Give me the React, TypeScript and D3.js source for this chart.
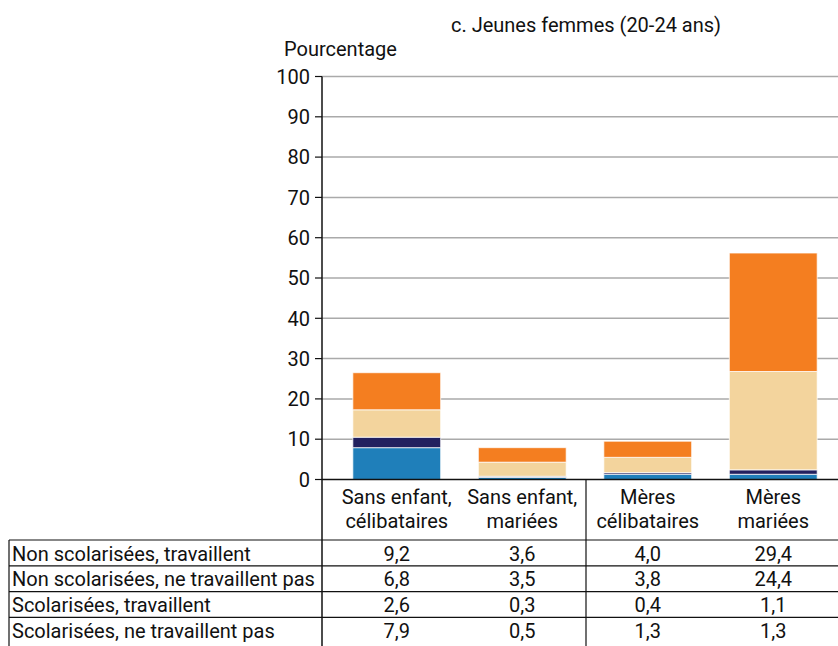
import React from 'react';
import * as d3 from 'd3';

const categories = [
  ['Sans enfant,', 'célibataires'],
  ['Sans enfant,', 'mariées'],
  ['Mères', 'célibataires'],
  ['Mères', 'mariées'],
];

// series, bottom of the stack first
const seriesNames = [
  'Scolarisées, ne travaillent pas',
  'Scolarisées, travaillent',
  'Non scolarisées, ne travaillent pas',
  'Non scolarisées, travaillent',
];
const scolNeTravPas = [7.9, 0.5, 1.3, 1.3];
const scolTrav = [2.6, 0.3, 0.4, 1.1];
const nonScolNeTravPas = [6.8, 3.5, 3.8, 24.4];
const nonScolTrav = [9.2, 3.6, 4.0, 29.4];
const colors = ['#1f7fba', '#22205f', '#f3d49d', '#f47e20'];

// table rows, top first
const tableRows = [
  'Non scolarisées, travaillent',
  'Non scolarisées, ne travaillent pas',
  'Scolarisées, travaillent',
  'Scolarisées, ne travaillent pas',
];
const tableValues = [nonScolTrav, nonScolNeTravPas, scolTrav, scolNeTravPas];
const yTicks = [0, 10, 20, 30, 40, 50, 60, 70, 80, 90, 100];

const FONT = 'Roboto, sans-serif';
const FS = 20;

export default function App() {
  const width = 838;
  const height = 646;
  const axisX = 322;
  const plotRight = 838;

  const y = d3.scaleLinear().domain([0, 100]).range([479.5, 76.5]);
  const x = d3.scaleBand<number>()
    .domain(d3.range(categories.length))
    .range([334, 836])
    .paddingInner(0.3)
    .paddingOuter(0.15);

  const table = categories.map((_, i) => {
    const row: any = { idx: i };
    row[seriesNames[0]] = scolNeTravPas[i];
    row[seriesNames[1]] = scolTrav[i];
    row[seriesNames[2]] = nonScolNeTravPas[i];
    row[seriesNames[3]] = nonScolTrav[i];
    return row;
  });
  const stacked = d3.stack().keys(seriesNames)(table);

  const fmt = (v: number) => v.toFixed(1).replace('.', ',');
  const cx = (i: number) => (x(i) as number) + x.bandwidth() / 2;

  const tableTop = 540;
  const rowH = 25.8;
  const tableLeft = 9;
  const divider = 586;

  return (
    <svg
      width={width}
      height={height}
      style={{ position: 'absolute', left: 0, top: 0, background: '#fff' }}
      fontFamily={FONT}
    >
      <text x={586} y={32} fontSize={FS} textAnchor="middle" fill="#111">
        c. Jeunes femmes (20-24 ans)
      </text>
      <text x={284} y={56} fontSize={FS} fill="#111">Pourcentage</text>

      {/* grid + y ticks */}
      {yTicks.map((t) => (
        <g key={t}>
          {t > 0 && (
            <line x1={axisX} x2={plotRight} y1={y(t)} y2={y(t)} stroke="#aaa" strokeWidth={1.5} />
          )}
          <line x1={315} x2={axisX} y1={y(t)} y2={y(t)} stroke="#111" strokeWidth={1.2} />
          <text x={310} y={y(t)} dy="0.36em" fontSize={FS} textAnchor="end" fill="#111">{t}</text>
        </g>
      ))}

      {/* bars */}
      {stacked.map((s, si) => (
        <g key={s.key}>
          {s.map((d, i) => (
            <rect
              key={i}
              x={x(i)}
              width={x.bandwidth()}
              y={y(d[1])}
              height={y(d[0]) - y(d[1])}
              fill={colors[si]}
              stroke="#fff"
              strokeOpacity={0.75}
              strokeWidth={1}
            />
          ))}
        </g>
      ))}

      {/* axes */}
      <line x1={axisX} x2={plotRight} y1={y(0)} y2={y(0)} stroke="#111" strokeWidth={1.5} />
      <line x1={axisX} x2={axisX} y1={y(100)} y2={height} stroke="#111" strokeWidth={1.5} />
      <line x1={divider} x2={divider} y1={y(0)} y2={height} stroke="#111" strokeWidth={1.2} />

      {/* category labels */}
      {categories.map((c, i) => (
        <text key={i} fontSize={FS} textAnchor="middle" fill="#111">
          <tspan x={cx(i)} y={504}>{c[0]}</tspan>
          <tspan x={cx(i)} y={528}>{c[1]}</tspan>
        </text>
      ))}

      {/* data table */}
      {tableRows.map((r, ri) => (
        <g key={r}>
          <line x1={tableLeft} x2={plotRight} y1={tableTop + ri * rowH} y2={tableTop + ri * rowH} stroke="#111" strokeWidth={1.2} />
          <text x={tableLeft + 3} y={tableTop + ri * rowH + 20.5} fontSize={FS} fill="#111">{r}</text>
          {tableValues[ri].map((v, ci) => (
            <text key={ci} x={cx(ci)} y={tableTop + ri * rowH + 20.5} fontSize={FS} textAnchor="middle" fill="#111">
              {fmt(v)}
            </text>
          ))}
        </g>
      ))}
      <line x1={tableLeft} x2={tableLeft} y1={tableTop} y2={height} stroke="#111" strokeWidth={1.2} />
    </svg>
  );
}
